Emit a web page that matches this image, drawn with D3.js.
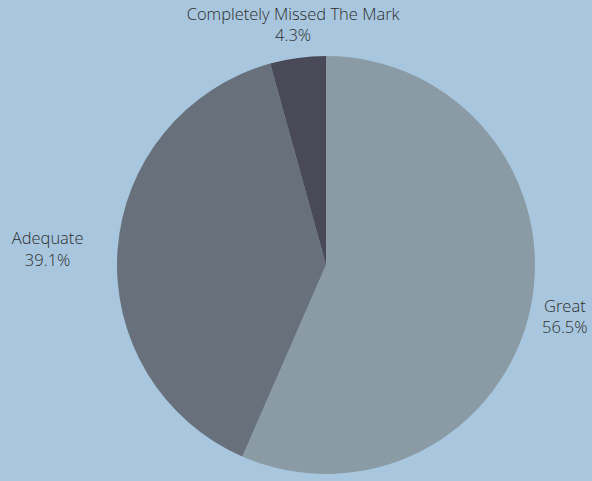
<!DOCTYPE html>
<html>
<head>
<meta charset="utf-8">
<script src="https://cdn.jsdelivr.net/npm/d3@7"></script>
<style>
  html, body { margin: 0; padding: 0; background: #a8c7de; }
  svg { display: block; }
  text { font-family: "Open Sans", sans-serif; font-weight: 300; font-size: 16.5px; fill: #2e2e2e; }
</style>
</head>
<body>
<svg id="chart" width="592" height="481"></svg>
<script>
// Survey responses
const categories = ["Great", "Adequate", "Completely Missed The Mark"];
const values = [56.5, 39.1, 4.3];
const colors = ["#8b9ba6", "#68707c", "#4a4958"];

const width = 592, height = 481;
const cx = 326, cy = 265, radius = 209;
const labelRadius = 244;

const svg = d3.select("#chart");
const g = svg.append("g").attr("transform", `translate(${cx},${cy})`);

const data = categories.map((c, i) => ({ name: c, value: values[i], color: colors[i] }));

const pie = d3.pie().value(d => d.value).sort(null);
const arc = d3.arc().innerRadius(0).outerRadius(radius);
const labelArc = d3.arc().innerRadius(labelRadius).outerRadius(labelRadius);

const arcs = pie(data);

g.selectAll("path.slice")
  .data(arcs)
  .join("path")
  .attr("class", "slice")
  .attr("d", arc)
  .attr("fill", d => d.data.color);

const labels = g.selectAll("text.label")
  .data(arcs)
  .join("text")
  .attr("class", "label")
  .attr("text-anchor", "middle")
  .attr("transform", d => {
    const [x, y] = labelArc.centroid(d);
    const mid = (d.startAngle + d.endAngle) / 2;
    // labels on the left flank sit further out
    const dx = (mid > Math.PI * 1.25 && mid < Math.PI * 1.75) ? -35 : 0;
    return `translate(${x + dx},${y})`;
  });

labels.append("tspan")
  .attr("x", 0)
  .attr("dy", "-0.2em")
  .text(d => d.data.name);

labels.append("tspan")
  .attr("x", 0)
  .attr("dy", "1.3em")
  .text(d => d.data.value.toFixed(1) + "%");
</script>
</body>
</html>
